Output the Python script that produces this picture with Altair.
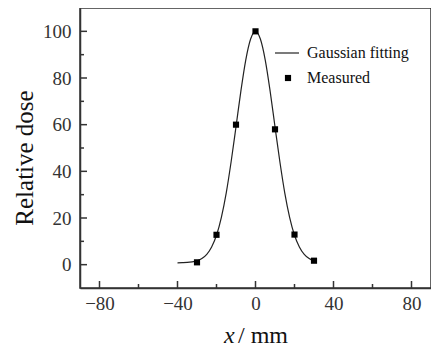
import altair as alt
import pandas as pd

# Measured points
meas_x = [-30, -20, -10, 0, 10, 20, 30]
meas_y = [1.0, 12.8, 60, 100, 58, 12.9, 1.7]

# Gaussian fitting curve
fit_x = [-40, -37.5, -35, -32.5, -30, -27.5, -25, -22.5, -20, -17.5, -15, -12.5, -10, -7.5, -5, -2.5,
         0, 2.5, 5, 7.5, 10, 12.5, 15, 17.5, 20, 22.5, 25, 27.5, 30]
fit_y = [0.8, 0.85, 0.95, 1.2, 1.6, 2.6, 4.4, 7.6, 12.6, 20.3, 30.8, 44.1, 59.1, 74.4, 87.7, 96.7,
         100, 96.7, 87.7, 74.4, 59.1, 44.1, 30.8, 20.3, 12.6, 7.6, 4.4, 2.6, 1.6]

x_major = [-80, -40, 0, 40, 80]
x_minor = [-60, -20, 20, 60]
y_major = [0, 20, 40, 60, 80, 100]
y_minor = [10, 30, 50, 70, 90]

W, H = 351, 280
FONT = "Liberation Serif"
AX = "#333333"

xs = alt.Scale(domain=[-90, 90], nice=False, zero=False)
ys = alt.Scale(domain=[-10, 110], nice=False, zero=False)
xax = alt.Axis(values=x_major, title=None, labelPadding=6, labelFont=FONT, labelFontSize=19)
yax = alt.Axis(values=y_major, title=None, labelPadding=9, labelFont=FONT, labelFontSize=19)

fit_df = pd.DataFrame({"x": fit_x, "y": fit_y})
meas_df = pd.DataFrame({"x": meas_x, "y": meas_y})

curve = alt.Chart(fit_df).mark_line(color="#222222", strokeWidth=1.2, interpolate="monotone").encode(
    x=alt.X("x:Q", scale=xs, axis=xax),
    y=alt.Y("y:Q", scale=ys, axis=yax),
)

pts = alt.Chart(meas_df).mark_square(size=38, color="black", opacity=1).encode(
    x=alt.X("x:Q", scale=xs, axis=xax),
    y=alt.Y("y:Q", scale=ys, axis=yax),
)

def xticks(vals, length):
    return alt.Chart(pd.DataFrame({"v": vals})).mark_rule(color=AX, strokeWidth=1.5).encode(
        x=alt.X("v:Q", scale=xs, axis=xax), y=alt.value(H), y2=alt.value(H - length)
    )

def yticks(vals, length):
    return alt.Chart(pd.DataFrame({"v": vals})).mark_rule(color=AX, strokeWidth=1.5).encode(
        y=alt.Y("v:Q", scale=ys, axis=yax), x=alt.value(0), x2=alt.value(length)
    )

def txt(t, x, y, size, align="left", italic=False, angle=0, baseline="middle", color="#111111"):
    kw = dict(align=align, baseline=baseline, font=FONT, fontSize=size, color=color)
    if italic:
        kw["fontStyle"] = "italic"
    if angle:
        kw["angle"] = angle
    return alt.Chart(pd.DataFrame({"t": [t]})).mark_text(**kw).encode(
        text="t:N", x=alt.value(x), y=alt.value(y)
    )

leg_line = alt.Chart(pd.DataFrame({"a": [1]})).mark_rule(color="#222222", strokeWidth=1.2).encode(
    x=alt.value(195), x2=alt.value(219), y=alt.value(45)
)
leg_sq = alt.Chart(pd.DataFrame({"a": [1]})).mark_square(size=38, color="black", opacity=1).encode(
    x=alt.value(208), y=alt.value(70)
)

chart = alt.layer(
    curve, pts,
    xticks(x_major, 7), xticks(x_minor, 4),
    yticks(y_major, 7), yticks(y_minor, 4),
    leg_line, leg_sq,
    txt("Gaussian fitting", 227, 45, 16),
    txt("Measured", 227, 70, 16),
    txt("Relative dose", -55, 150, 25, align="center", angle=270),
    txt("x", 144, 335, 24, italic=True, baseline="alphabetic"),
    txt("/ mm", 158, 335, 24, baseline="alphabetic"),
).properties(
    width=W, height=H,
    background="white",
    autosize=alt.AutoSizeParams(type="none"),
    padding={"left": 72, "top": 0, "right": 0, "bottom": 62},
).configure_view(stroke=AX, strokeWidth=1.5).configure_axis(
    ticks=False, grid=False, domainColor=AX, domainWidth=1.5,
    labelFont=FONT, labelFontSize=19, labelColor=AX,
)

chart.save("out.html", embed_options={"renderer": "svg", "actions": False})
